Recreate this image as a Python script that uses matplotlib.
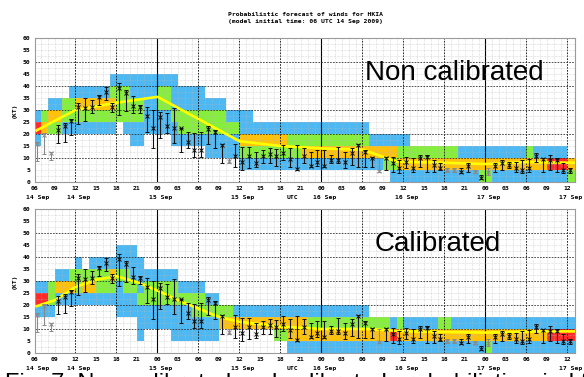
import numpy as np
import matplotlib
matplotlib.use("Agg")
import matplotlib.pyplot as plt
import matplotlib.transforms as mtransforms

# ---- data ----
# probability boxes: (start hour, end hour, 5-kt bins from 0 upward)
# hours counted from 00 UTC 14 Sep; b=blue g=green o=orange r=red
top_start = [6, 7, 8, 10, 11, 12, 17, 18, 19, 20, 22, 24, 26, 27, 31, 34, 36, 38, 43, 45,
             55, 57, 58, 59, 61, 68, 71, 73, 78, 79, 81, 84]
top_end = [7, 8, 10, 11, 12, 17, 18, 19, 20, 22, 24, 26, 27, 31, 34, 36, 38, 43, 45, 55,
           57, 58, 59, 61, 68, 71, 73, 78, 79, 81, 84, 85.1]
top_bins = ["...brb", "....og", "....gob", "....bgg", "....bggb", "....bgob", "....bgogb",
            ".....gggb", "....bgggb", "...bbggbb", "....bbbbb", "....bbggb", "...bbgbbb",
            "...bggbb", "..bbggb", "..bbgb", ".bgobb", ".bgob", ".bggb", ".bogb",
            ".bob", ".gob", "bgob", "bogb", "bog", "bob", "gob", "bob", "bog", "bob",
            "brb", "go"]

bot_start = [6, 8, 9, 11, 12, 13, 14, 15, 17, 18, 19, 20, 21, 22, 24, 26, 27, 29, 31, 33,
             35, 41, 43, 46, 55, 58, 59, 60, 65, 67, 72, 73, 81]
bot_end = [8, 9, 11, 12, 13, 14, 15, 17, 18, 19, 20, 21, 22, 24, 26, 27, 29, 31, 33, 35,
           41, 43, 46, 55, 58, 59, 60, 65, 67, 72, 73, 81, 85.1]
bot_bins = ["...brb", "...bgg", "....bob", "....bog", "....bggb", "....bog", "....bogb",
            "....bggb", "....bgob", "...bbbgbb", "...bbggbb", "...bbgbbb", ".bbbgbbb",
            "..bbggb", "..bbggb", ".bbbggb", ".bbbgb", ".bbggb", ".bbgb", "..og",
            "..ob", ".gob", "boob", "bogb", "bog", "brb", "bog", "bob", "bog", "bob",
            "gob", "bob", "brb"]

# ensemble mean (yellow line)
top_mean_h = [6.3, 12, 18, 24, 36, 42, 48, 54, 59, 66, 72, 78, 85]
top_mean_v = [21.5, 30, 33, 35.5, 17, 15, 14, 13.5, 8.5, 8, 7.5, 8.3, 8]
bot_mean_h = [6.3, 9, 12, 15, 18, 21, 24, 27, 30, 33, 36, 42, 48, 55, 60, 72, 80, 85]
bot_mean_v = [19.5, 22, 27.5, 30.5, 32, 29.5, 26, 22, 18.5, 15, 13, 11, 10, 10, 9, 8.5, 9, 9]

# hourly observations 06 UTC 14 Sep .. 12 UTC 17 Sep
obs_hour = np.arange(6, 85)
obs_mid = [16, 19.6, 12, 21.7, 23.5, 25.4, 31.4, 30.7, 31.4, 35.5, 37.6, 31.4, 39, 37, 31.8,
           31.4, 27.6, 22.4, 27.2, 23.5, 22.4, 22.4, 16.8, 13.3, 13.3, 22, 21, 15.4, 8.8, 11,
           8.5, 11, 7.8, 11, 11.5, 11, 12, 9.6, 5.4, 11, 6.8, 8.5, 6.8, 9.2, 9.2, 8.2, 12,
           15.4, 12.6, 10.1, 4.6, 9.9, 7.8, 5.7, 8.2, 5.7, 10.1, 10.4, 7.1, 6, 5, 5, 4, 6.8,
           4, 1.8, 4.3, 6.8, 7.8, 7.1, 5.7, 5, 5.7, 11, 9.6, 9.2, 9.2, 5, 5]
obs_lo = [8.8, 11.5, 9.2, 16.1, 16.8, 19.6, 24, 25.4, 28.6, 32, 34.2, 29.3, 27.9, 29.6, 28.9,
          28.6, 21, 14, 18.2, 20.3, 16.1, 12.4, 14, 10.6, 10.6, 16, 14, 7.8, 7.8, 6.4,
          5, 5.7, 6.4, 7.8, 7.8, 6.8, 9.2, 6.4, 5, 7.8, 6.4, 6.8, 6.4, 7.8, 7.8, 5.7, 7.1,
          6.4, 6.4, 6.4, 4.3, 5, 4.3, 3.6, 5.7, 4.3, 6.4, 4.3, 4.3, 5, 4.3, 4.3, 3.6, 4.3,
          3.6, 1.2, 2.9, 4.3, 5, 5.7, 4.3, 3.6, 4.3, 8.5, 4.3, 5, 4.3, 3.6, 3.6]
obs_hi = [16.8, 20.3, 12.6, 23.7, 24.4, 26.2, 32.8, 34.9, 34.2, 36.2, 39.7, 32.8, 41.1, 38.3,
          35.8, 32, 31.4, 30, 29.3, 28.6, 30.7, 22.6, 21, 20.3, 20.7, 23.5, 21.7, 16, 9.9,
          16, 14.7, 14.7, 12.6, 13.3, 14, 13.8, 15.4, 14, 15.4, 14, 12.6, 13.3, 13.3, 11.2,
          14.7, 12.6, 14, 16, 13.3, 10.6, 9.9, 10.6, 10.6, 9.2, 10.6, 9.9, 11.2, 11.2, 9.2,
          7.8, 5.7, 5.7, 5.7, 7.8, 5, 2.9, 5.7, 7.8, 9.2, 8.5, 8.5, 9.2, 9.6, 12, 10.1,
          11.2, 9.9, 7.8, 5.7]
obs_grey = [6, 7, 8, 34, 56, 66, 67, 70, 72]

tick_hours = list(range(6, 85, 3))
date_hours = [6, 12, 24, 36, 42, 48, 60, 72, 84]
date_text = ["14 Sep", "14 Sep", "15 Sep", "15 Sep", "UTC", "16 Sep", "16 Sep", "17 Sep", "17 Sep"]

colours = {"b": "#4db8f2", "g": "#86ee3c", "o": "#ffc20a", "r": "#ff2a2a"}
mono = dict(family="DejaVu Sans Mono", fontsize=4.6, fontweight="bold")


def draw_panel(ax, starts, ends, bins, mean_h, mean_v, label, label_x):
    # probability boxes
    for s, e, code in zip(starts, ends, bins):
        for i, c in enumerate(code):
            if c == ".":
                continue
            ax.bar(s, 5, width=e - s, bottom=5 * i, align="edge",
                   color=colours[c], linewidth=0, zorder=1)

    # grid, light dotted every hour / 2.5 kt, dark dashed every 6 h / 10 kt
    for h in range(7, 85):
        if h % 6 == 0:
            ls = "-" if h % 24 == 0 else (0, (2, 1.5))
            ax.axvline(h, color="black", lw=0.8 if h % 24 == 0 else 0.6, ls=ls, zorder=2)
        else:
            ax.axvline(h, color="#b8b8b8", lw=0.4, ls=(0, (1, 1.5)), zorder=2)
    for v in np.arange(2.5, 60, 2.5):
        if v % 10 == 0:
            ax.axhline(v, color="#333333", lw=0.6, ls=(0, (2, 1.5)), zorder=2)
        else:
            ax.axhline(v, color="#b8b8b8", lw=0.4, ls=(0, (1, 1.5)), zorder=2)

    ax.plot(mean_h, mean_v, color="#ffff00", lw=1.9, zorder=3)

    # observed wind: range with caps and x at mean
    for k, h in enumerate(obs_hour):
        col = "#8a8a8a" if h in obs_grey else "#111111"
        ax.errorbar(h + 0.4, obs_mid[k], yerr=[[obs_mid[k] - obs_lo[k]], [obs_hi[k] - obs_mid[k]]],
                    fmt="x", color=col, ms=2.6, mew=0.7, elinewidth=0.8, capsize=1.4,
                    capthick=0.7, zorder=4)

    ax.set_xlim(6, 85.1)
    ax.set_ylim(0, 60)
    ax.set_xticks(tick_hours)
    ax.set_xticklabels(["%02d" % (h % 24) for h in tick_hours], **mono)
    ax.set_yticks(range(0, 61, 5))
    ax.set_yticklabels([str(v) for v in range(0, 61, 5)], **mono)
    ax.tick_params(length=0, pad=3)
    ax.set_ylabel("(KT)", labelpad=4, **mono)
    for sp in ax.spines.values():
        sp.set_color("#9a9a9a")
        sp.set_linewidth(0.8)

    trans = mtransforms.blended_transform_factory(ax.transData, ax.transAxes)
    for h, t in zip(date_hours, date_text):
        dx = 1.7 if t == "UTC" else 0.5
        ax.text(h + dx, -0.105, t, transform=trans, ha="center", va="center",
                clip_on=False, **mono)

    ax.text(label_x, 0.76, label, transform=ax.transAxes, ha="center", va="center",
            family="Liberation Sans", fontsize=20)


fig = plt.figure(figsize=(5.84, 3.77), dpi=100)
ax1 = fig.add_axes([34.5 / 584, 195 / 377, 540.5 / 584, 144 / 377])
ax2 = fig.add_axes([34.5 / 584, 24 / 377, 540.5 / 584, 144 / 377])
draw_panel(ax1, top_start, top_end, top_bins, top_mean_h, top_mean_v, "Non calibrated", 0.777)
draw_panel(ax2, bot_start, bot_end, bot_bins, bot_mean_h, bot_mean_v, "Calibrated", 0.746)

fig.text(305 / 584, 1 - 15 / 377, "Probabilistic forecast of winds for HKIA",
         ha="center", va="center", **mono)
fig.text(305 / 584, 1 - 22 / 377, "(model initial time: 06 UTC 14 Sep 2009)",
         ha="center", va="center", **mono)
# slide caption, cut by the lower edge as in the source image
fig.text(5 / 584, 1 - 373 / 377, "Fig. 7: Non-calibrated and calibrated probabilistic wind forecasts",
         ha="left", va="top", family="Liberation Sans", fontsize=17)

fig.savefig("out.png", dpi=100)
